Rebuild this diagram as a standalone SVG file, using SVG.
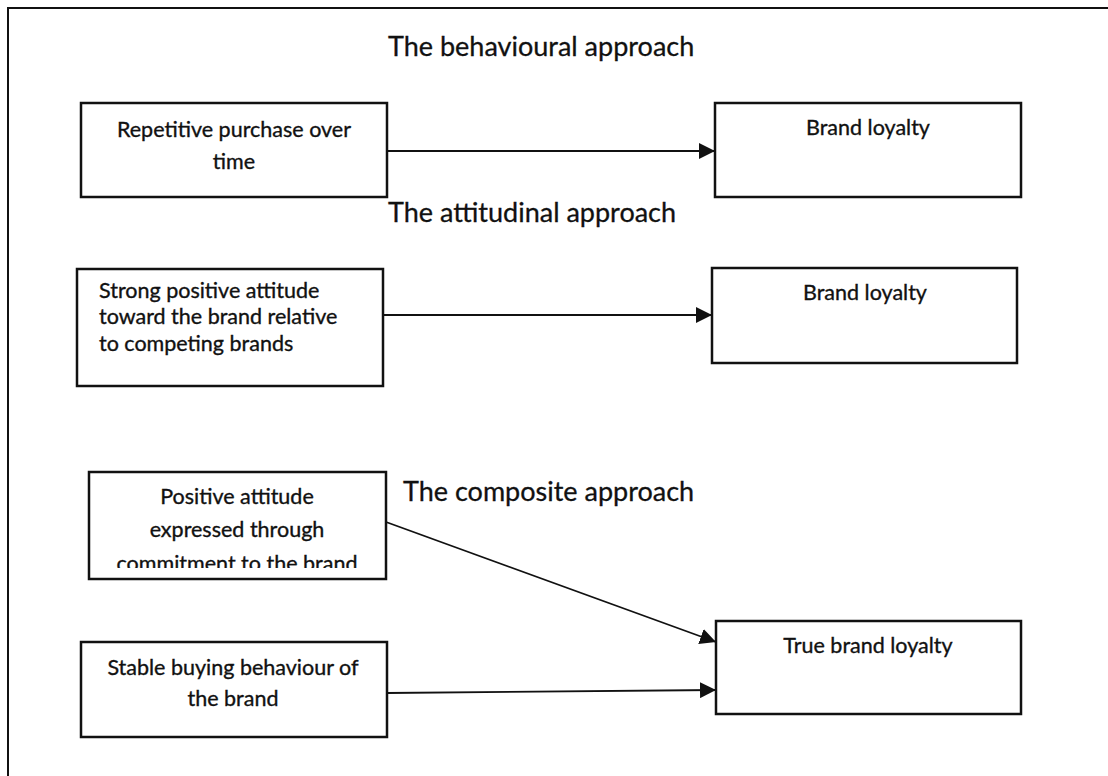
<svg xmlns="http://www.w3.org/2000/svg" width="1108" height="776" viewBox="0 0 1108 776">
<style>
.box{fill:#fff;stroke:#111;stroke-width:2.5}
.t{font-family:Lato,"Open Sans",sans-serif;font-size:21.5px;fill:#111;stroke:#111;stroke-width:0.35}
.c{text-anchor:middle}
.title{font-family:Lato,"Open Sans",sans-serif;font-size:27px;fill:#111;stroke:#111;stroke-width:0.3}
.edge{stroke:#111;stroke-width:1.8;fill:none}
</style>
<defs>
<marker id="ah" markerUnits="userSpaceOnUse" markerWidth="17" markerHeight="16" refX="16" refY="8" orient="auto">
<path d="M0,0 L16,8 L0,16 z" fill="#111"/>
</marker>
<clipPath id="clip5"><rect x="89" y="472" width="297" height="96"/></clipPath>
</defs>
<rect width="1108" height="776" fill="#fff"/>
<g id="frame">
<path d="M1108,8 H8 V776" fill="none" stroke="#111" stroke-width="2"/>
</g>
<g id="titles">
<text class="title" x="388" y="56">The behavioural approach</text>
<text class="title" x="388" y="222">The attitudinal approach</text>
<text class="title" x="403" y="501">The composite approach</text>
</g>
<g id="connectors">
<line class="edge" x1="387" y1="151" x2="715" y2="151" marker-end="url(#ah)"/>
<line class="edge" x1="383" y1="315" x2="712" y2="315" marker-end="url(#ah)"/>
<line class="edge" x1="386" y1="522" x2="716" y2="642" marker-end="url(#ah)"/>
<line class="edge" x1="387" y1="693" x2="716" y2="690" marker-end="url(#ah)"/>
</g>
<g id="n1">
<rect class="box" x="81" y="103" width="306" height="94"/>
<text class="t c" x="234" y="137">Repetitive purchase over</text>
<text class="t c" x="234" y="169">time</text>
</g>
<g id="n2">
<rect class="box" x="715" y="103" width="306" height="94"/>
<text class="t c" x="868" y="135">Brand loyalty</text>
</g>
<g id="n3">
<rect class="box" x="77" y="269" width="306" height="117"/>
<text class="t" x="99" y="298">Strong positive attitude</text>
<text class="t" x="99" y="324">toward the brand relative</text>
<text class="t" x="99" y="351">to competing brands</text>
</g>
<g id="n4">
<rect class="box" x="712" y="268" width="305" height="95"/>
<text class="t c" x="865" y="300">Brand loyalty</text>
</g>
<g id="n5">
<rect class="box" x="89" y="472" width="297" height="107"/>
<g clip-path="url(#clip5)">
<text class="t c" x="237" y="504">Positive attitude</text>
<text class="t c" x="237" y="537">expressed through</text>
<text class="t c" x="237" y="571">commitment to the brand</text>
</g>
</g>
<g id="n6">
<rect class="box" x="716" y="621" width="305" height="93"/>
<text class="t c" x="868" y="653">True brand loyalty</text>
</g>
<g id="n7">
<rect class="box" x="81" y="642" width="306" height="95"/>
<text class="t c" x="233" y="675">Stable buying behaviour of</text>
<text class="t c" x="233" y="706">the brand</text>
</g>
</svg>
